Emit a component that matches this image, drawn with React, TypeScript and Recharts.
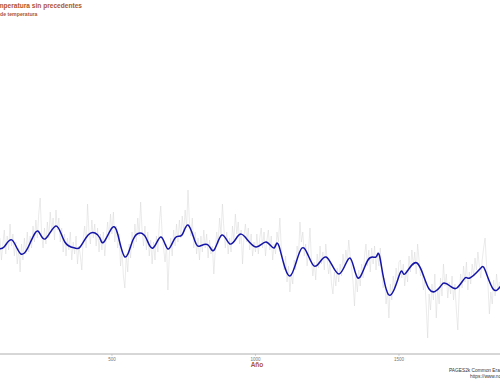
import { LineChart, Line, XAxis, YAxis } from "recharts";

// 30-year smoothed reconstruction (°C anomaly)
const smoothYears = [
  100, 124, 152, 183, 215, 242, 267, 305, 336, 371, 389, 417, 441, 458, 472, 500, 521, 546, 573, 598,
  619, 643, 671, 695, 720, 744, 765, 789, 807, 835, 856, 883, 911, 939, 964, 1002, 1037, 1065, 1082, 1120,
  1162, 1204, 1246, 1291, 1329, 1357, 1392, 1420, 1434, 1465, 1504, 1521, 1563, 1605, 1643, 1657, 1678, 1702, 1730, 1747,
  1782, 1800, 1828, 1852, 1870,
];
const smoothTemp = [
  -0.27, -0.265, -0.23, -0.3, -0.245, -0.185, -0.225, -0.16, -0.24, -0.27, -0.265, -0.205, -0.195, -0.22, -0.24, -0.17, -0.205, -0.315, -0.23, -0.195,
  -0.22, -0.27, -0.215, -0.275, -0.22, -0.205, -0.155, -0.235, -0.26, -0.255, -0.28, -0.205, -0.25, -0.21, -0.215, -0.265, -0.24, -0.27, -0.26, -0.41,
  -0.27, -0.36, -0.315, -0.4, -0.32, -0.42, -0.33, -0.315, -0.32, -0.505, -0.395, -0.4, -0.345, -0.475, -0.465, -0.445, -0.46, -0.47, -0.42, -0.42,
  -0.375, -0.38, -0.475, -0.465, -0.44,
];

// annual reconstruction, every 5th year from 110
const annualStart = 110;
const annualStep = 5;
const annualTemp = [
  -0.22, -0.33, -0.25, -0.18, -0.3, -0.21, -0.28, -0.15, -0.26, -0.2, -0.31, -0.24, -0.35, -0.27, -0.39, -0.25, -0.33, -0.22, -0.3, -0.19,
  -0.29, -0.21, -0.27, -0.16, -0.24, -0.13, -0.22, -0.1, -0.02, -0.2, -0.27, -0.17, -0.25, -0.14, -0.22, -0.09, -0.19, -0.12, -0.23, -0.08,
  -0.18, -0.12, -0.24, -0.17, -0.29, -0.2, -0.31, -0.22, -0.28, -0.19, -0.33, -0.24, -0.3, -0.21, -0.35, -0.26, -0.31, -0.38, -0.22, -0.16,
  -0.27, -0.05, -0.19, -0.25, -0.13, -0.22, -0.15, -0.26, -0.17, -0.29, -0.2,
  -0.28, -0.19, -0.31, -0.22, -0.14, -0.23, -0.1, -0.2, -0.09, -0.24, -0.16, -0.27, -0.2, -0.36, -0.28, -0.41, -0.47, -0.3, -0.39, -0.25,
  -0.32, -0.19, -0.27, -0.15, -0.24, -0.12, -0.21, -0.04, -0.18, -0.26, -0.16, -0.28, -0.19, -0.31, -0.23, -0.35,
  -0.24, -0.33, -0.21, -0.29, -0.15, -0.06, -0.2, -0.27, -0.34, -0.25, -0.48, -0.3, -0.22, -0.31, -0.18, -0.26, -0.15, -0.24, -0.13, -0.22,
  -0.11, -0.19, -0.08, -0.17, 0.02, -0.14, -0.21, -0.12, -0.27, -0.19, -0.3, -0.22, -0.33,
  -0.21, -0.29, -0.18, -0.27, -0.2, -0.32, -0.23, -0.3, -0.26, -0.4, -0.28, -0.19, -0.25, -0.12, -0.2, -0.05, -0.17, -0.27, -0.19, -0.3,
  -0.22, -0.29, -0.16, -0.23, -0.1, -0.2, -0.14, -0.25, -0.18, -0.35, -0.21, -0.15, -0.24, -0.17, -0.28, -0.2, -0.31, -0.24, -0.29,
  -0.2, -0.3, -0.22, -0.17, -0.27, -0.19, -0.31, -0.23, -0.18, -0.28, -0.21, -0.33, -0.25, -0.3, -0.19, -0.24, -0.12, -0.27, -0.33, -0.38,
  -0.31, -0.44, -0.36, -0.49, -0.4, -0.45, -0.33, -0.38, -0.26, -0.31, -0.14, -0.24,
  -0.19, -0.31, -0.25, -0.36, -0.28, -0.17, -0.33, -0.41, -0.34, -0.43, -0.3, -0.37, -0.26, -0.35, -0.29, -0.38, -0.25, -0.33, -0.4, -0.34,
  -0.45, -0.5, -0.39, -0.46, -0.37, -0.44, -0.35, -0.41, -0.3, -0.37, -0.28, -0.34, -0.23, -0.31,
  -0.37, -0.44, -0.56, -0.41, -0.49, -0.38, -0.46, -0.35, -0.42, -0.31, -0.25, -0.36, -0.28, -0.39, -0.27, -0.35, -0.26, -0.38, -0.29, -0.36,
  -0.27, -0.4, -0.47, -0.42, -0.55, -0.48, -0.62, -0.45, -0.53, -0.41, -0.48, -0.37, -0.44, -0.34,
  -0.33, -0.42, -0.35, -0.46, -0.38, -0.44, -0.31, -0.39, -0.28, -0.36, -0.29, -0.4, -0.25, -0.33, -0.41, -0.37, -0.48, -0.43, -0.56, -0.72,
  -0.5, -0.58, -0.45, -0.53, -0.4, -0.62, -0.47, -0.55, -0.42, -0.51, -0.35, -0.46, -0.4, -0.52, -0.44, -0.5,
  -0.41, -0.53, -0.45, -0.58, -0.68, -0.49, -0.4, -0.47, -0.36, -0.44, -0.34, -0.48, -0.39, -0.45, -0.35, -0.41, -0.32, -0.38, -0.29, -0.36,
  -0.42, -0.33, -0.27, -0.22, -0.35, -0.45, -0.6, -0.49, -0.55, -0.43, -0.51, -0.4, -0.48, -0.44,
];

const xTicks = [500, 1000, 1500];
const titleText = "Temperatura sin precedentes";
const subtitleText = "de temperatura";
const xLabel = "Año";
const captionLines = ["PAGES2k Common Era Surface Temperature Reconstructions", "https://www.ncei.noaa.gov"];

const accent = "#b0552e";
const font = "'Liberation Sans', Arial, sans-serif";

export default function App() {
  const annual = annualTemp.map((t, i) => ({ year: annualStart + i * annualStep, temp: t }));
  const smooth = smoothYears.map((y, i) => ({ year: y, temp: smoothTemp[i] }));

  return (
    <div
      style={{
        position: "absolute", left: 0, top: 0, width: 500, height: 383,
        overflow: "hidden", background: "#fff", fontFamily: font,
      }}
    >
      <LineChart width={500} height={383} margin={{ top: 30, right: 0, left: 0, bottom: 0 }}>
        <XAxis
          dataKey="year"
          type="number"
          domain={[110, 1852]}
          allowDataOverflow
          ticks={xTicks}
          height={29}
          tickSize={2}
          tick={{ fontSize: 4.5, fill: "#777", fontFamily: font }}
          axisLine={{ stroke: "#999", strokeWidth: 0.8 }}
          tickLine={{ stroke: "#aaa", strokeWidth: 0.5 }}
        />
        <YAxis hide domain={[-0.8, 0.82]} allowDataOverflow />
        <Line
          data={annual}
          dataKey="temp"
          type="linear"
          stroke="#d6d6d6"
          strokeWidth={0.5}
          dot={false}
          isAnimationActive={false}
        />
        <Line
          data={smooth}
          dataKey="temp"
          type="natural"
          stroke="#1414a8"
          strokeWidth={1.5}
          dot={false}
          isAnimationActive={false}
        />
      </LineChart>

      <div
        style={{
          position: "absolute", right: 418, top: 2, whiteSpace: "nowrap",
          fontSize: 6.6, fontWeight: 700, color: accent, lineHeight: "8px",
        }}
      >
        {titleText}
      </div>
      <div
        style={{
          position: "absolute", left: 0, top: 11, whiteSpace: "nowrap",
          fontSize: 5.2, fontWeight: 700, color: accent, lineHeight: "6px",
        }}
      >
        {subtitleText}
      </div>
      <div
        style={{
          position: "absolute", left: 0, width: 514, top: 361, textAlign: "center",
          fontSize: 6.5, fontWeight: 700, color: accent, lineHeight: "8px",
        }}
      >
        {xLabel}
      </div>
      <div
        style={{
          position: "absolute", left: 449, top: 368, whiteSpace: "nowrap",
          fontSize: 4.8, color: "#333", lineHeight: "5px",
        }}
      >
        {captionLines[0]}
      </div>
      <div
        style={{
          position: "absolute", left: 470, top: 374, whiteSpace: "nowrap",
          fontSize: 4.8, color: "#333", lineHeight: "5px",
        }}
      >
        {captionLines[1]}
      </div>
    </div>
  );
}
